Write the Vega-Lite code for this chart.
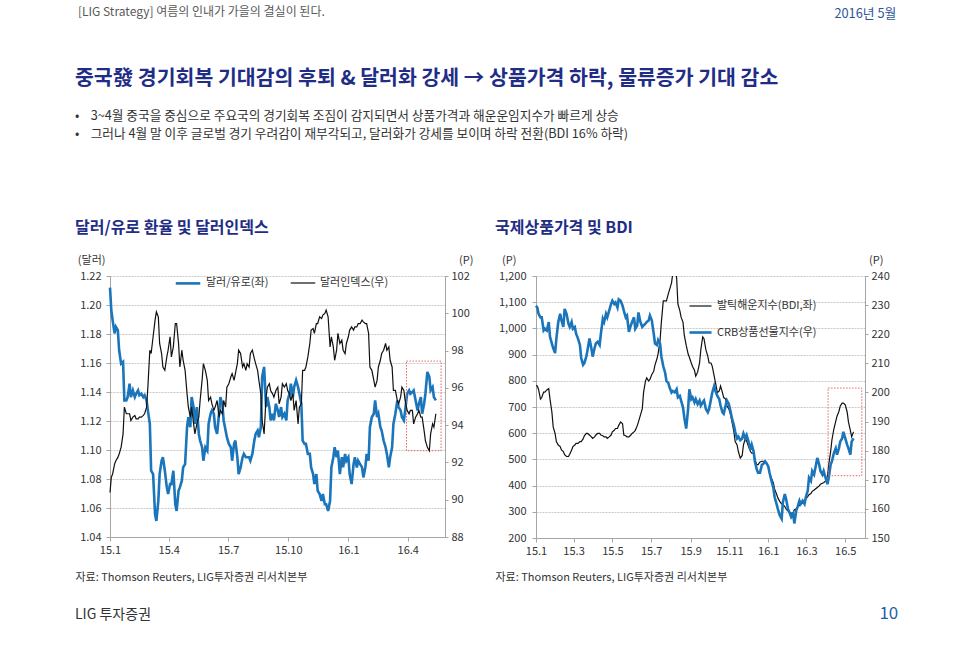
{
"$schema": "https://vega.github.io/schema/vega-lite/v6.json",
"padding": {"left": 75, "top": 5, "right": 20, "bottom": 5},
"background": "white",
"config": {
  "font": "Noto Sans CJK KR",
  "view": {"stroke": null},
  "axis": {"labelFontSize": 11, "labelColor": "#333333", "domainColor": "#a6a6a6", "tickColor": "#a6a6a6", "tickSize": 4, "titleFontSize": 11, "titleFontWeight": "normal", "titleColor": "#333333", "gridColor": "#c8c8c8", "gridDash": [2, 1], "gridOpacity": 1, "labelOverlap": false},
  "legend": {"padding": 0, "offset": 0, "labelFontSize": 11, "labelColor": "#333333", "symbolType": "stroke", "title": null}
},
"datasets": {"series": [
{"d":"2015-01-01","eur":1.212,"dxy":90.39,"bdi":782,"crb":229.8},
{"d":"2015-01-03","eur":1.1965,"dxy":91.2,"bdi":780,"crb":229.2},
{"d":"2015-01-05","eur":1.1896,"dxy":91.38,"bdi":767,"crb":227.0},
{"d":"2015-01-08","eur":1.1804,"dxy":91.91,"bdi":730,"crb":225.8},
{"d":"2015-01-10","eur":1.185,"dxy":92.09,"bdi":736,"crb":225.8},
{"d":"2015-01-13","eur":1.1827,"dxy":92.27,"bdi":757,"crb":221.3},
{"d":"2015-01-15","eur":1.1688,"dxy":92.45,"bdi":757,"crb":221.9},
{"d":"2015-01-18","eur":1.1596,"dxy":92.81,"bdi":765,"crb":221.3},
{"d":"2015-01-21","eur":1.1608,"dxy":93.53,"bdi":770,"crb":224.2},
{"d":"2015-01-23","eur":1.1342,"dxy":94.97,"bdi":730,"crb":219.1},
{"d":"2015-01-26","eur":1.1342,"dxy":94.61,"bdi":680,"crb":216.8},
{"d":"2015-01-28","eur":1.1365,"dxy":94.61,"bdi":624,"crb":215.2},
{"d":"2015-01-31","eur":1.1457,"dxy":94.61,"bdi":599,"crb":213.5},
{"d":"2015-02-02","eur":1.1365,"dxy":94.25,"bdi":568,"crb":218.5},
{"d":"2015-02-05","eur":1.1411,"dxy":94.43,"bdi":555,"crb":224.2},
{"d":"2015-02-08","eur":1.1365,"dxy":94.52,"bdi":549,"crb":227.0},
{"d":"2015-02-10","eur":1.1388,"dxy":94.34,"bdi":536,"crb":224.7},
{"d":"2015-02-13","eur":1.1411,"dxy":94.34,"bdi":530,"crb":222.5},
{"d":"2015-02-15","eur":1.1377,"dxy":94.43,"bdi":518,"crb":228.7},
{"d":"2015-02-18","eur":1.1388,"dxy":94.43,"bdi":511,"crb":227.0},
{"d":"2015-02-21","eur":1.1365,"dxy":94.52,"bdi":511,"crb":223.6},
{"d":"2015-02-23","eur":1.1377,"dxy":94.61,"bdi":520,"crb":222.5},
{"d":"2015-02-26","eur":1.1342,"dxy":94.97,"bdi":536,"crb":224.2},
{"d":"2015-02-28","eur":1.1273,"dxy":96.04,"bdi":549,"crb":221.9},
{"d":"2015-03-03","eur":1.118,"dxy":98.02,"bdi":555,"crb":222.5},
{"d":"2015-03-05","eur":1.0857,"dxy":97.84,"bdi":561,"crb":220.2},
{"d":"2015-03-08","eur":1.0834,"dxy":98.74,"bdi":561,"crb":218.5},
{"d":"2015-03-11","eur":1.0557,"dxy":99.63,"bdi":568,"crb":216.3},
{"d":"2015-03-13","eur":1.0511,"dxy":100.08,"bdi":568,"crb":211.8},
{"d":"2015-03-16","eur":1.0649,"dxy":99.81,"bdi":578,"crb":209.5},
{"d":"2015-03-18","eur":1.0834,"dxy":98.38,"bdi":590,"crb":210.1},
{"d":"2015-03-21","eur":1.0926,"dxy":97.84,"bdi":599,"crb":212.3},
{"d":"2015-03-23","eur":1.095,"dxy":97.12,"bdi":599,"crb":214.6},
{"d":"2015-03-26","eur":1.0857,"dxy":96.94,"bdi":593,"crb":218.5},
{"d":"2015-03-29","eur":1.0742,"dxy":97.66,"bdi":586,"crb":215.2},
{"d":"2015-03-31","eur":1.0696,"dxy":98.02,"bdi":580,"crb":212.3},
{"d":"2015-04-03","eur":1.0765,"dxy":98.74,"bdi":586,"crb":215.2},
{"d":"2015-04-05","eur":1.0765,"dxy":97.66,"bdi":593,"crb":216.8},
{"d":"2015-04-08","eur":1.0857,"dxy":98.2,"bdi":599,"crb":217.4},
{"d":"2015-04-11","eur":1.0626,"dxy":99.45,"bdi":599,"crb":216.3},
{"d":"2015-04-13","eur":1.058,"dxy":99.45,"bdi":593,"crb":220.2},
{"d":"2015-04-16","eur":1.0719,"dxy":98.38,"bdi":590,"crb":225.3},
{"d":"2015-04-18","eur":1.0742,"dxy":97.12,"bdi":586,"crb":224.2},
{"d":"2015-04-21","eur":1.0788,"dxy":98.02,"bdi":586,"crb":227.0},
{"d":"2015-04-23","eur":1.088,"dxy":97.48,"bdi":580,"crb":225.8},
{"d":"2015-04-26","eur":1.0903,"dxy":96.94,"bdi":586,"crb":228.1},
{"d":"2015-04-29","eur":1.1157,"dxy":95.68,"bdi":593,"crb":230.4},
{"d":"2015-05-01","eur":1.1227,"dxy":94.97,"bdi":605,"crb":231.5},
{"d":"2015-05-04","eur":1.1157,"dxy":94.43,"bdi":611,"crb":230.4},
{"d":"2015-05-06","eur":1.1365,"dxy":94.97,"bdi":618,"crb":230.9},
{"d":"2015-05-09","eur":1.1296,"dxy":94.07,"bdi":618,"crb":229.2},
{"d":"2015-05-11","eur":1.118,"dxy":93.53,"bdi":630,"crb":232.0},
{"d":"2015-05-14","eur":1.1296,"dxy":94.07,"bdi":643,"crb":231.5},
{"d":"2015-05-17","eur":1.1111,"dxy":94.43,"bdi":636,"crb":229.8},
{"d":"2015-05-19","eur":1.1065,"dxy":95.32,"bdi":593,"crb":228.1},
{"d":"2015-05-22","eur":1.1019,"dxy":96.4,"bdi":590,"crb":225.8},
{"d":"2015-05-24","eur":1.0926,"dxy":97.3,"bdi":586,"crb":226.4},
{"d":"2015-05-27","eur":1.1019,"dxy":96.94,"bdi":586,"crb":220.8},
{"d":"2015-05-30","eur":1.0996,"dxy":96.4,"bdi":593,"crb":223.0},
{"d":"2015-06-01","eur":1.118,"dxy":95.32,"bdi":599,"crb":224.2},
{"d":"2015-06-04","eur":1.125,"dxy":95.5,"bdi":605,"crb":225.8},
{"d":"2015-06-06","eur":1.1273,"dxy":95.15,"bdi":611,"crb":221.9},
{"d":"2015-06-09","eur":1.125,"dxy":94.79,"bdi":628,"crb":223.0},
{"d":"2015-06-11","eur":1.1157,"dxy":94.97,"bdi":643,"crb":227.5},
{"d":"2015-06-14","eur":1.1111,"dxy":95.32,"bdi":668,"crb":224.2},
{"d":"2015-06-17","eur":1.125,"dxy":94.43,"bdi":693,"crb":222.5},
{"d":"2015-06-19","eur":1.1365,"dxy":94.79,"bdi":755,"crb":223.0},
{"d":"2015-06-22","eur":1.1319,"dxy":94.61,"bdi":799,"crb":223.6},
{"d":"2015-06-24","eur":1.1204,"dxy":95.32,"bdi":811,"crb":224.2},
{"d":"2015-06-27","eur":1.1134,"dxy":94.97,"bdi":799,"crb":224.7},
{"d":"2015-06-29","eur":1.1088,"dxy":96.04,"bdi":805,"crb":226.4},
{"d":"2015-07-02","eur":1.1042,"dxy":96.22,"bdi":824,"crb":224.7},
{"d":"2015-07-05","eur":1.1019,"dxy":96.58,"bdi":836,"crb":220.2},
{"d":"2015-07-07","eur":1.0926,"dxy":96.76,"bdi":861,"crb":216.8},
{"d":"2015-07-10","eur":1.1042,"dxy":96.4,"bdi":883,"crb":216.3},
{"d":"2015-07-12","eur":1.1065,"dxy":96.76,"bdi":905,"crb":218.0},
{"d":"2015-07-15","eur":1.095,"dxy":97.3,"bdi":955,"crb":216.8},
{"d":"2015-07-17","eur":1.0834,"dxy":98.02,"bdi":1024,"crb":212.3},
{"d":"2015-07-20","eur":1.088,"dxy":97.84,"bdi":1105,"crb":209.0},
{"d":"2015-07-23","eur":1.095,"dxy":97.12,"bdi":1105,"crb":206.7},
{"d":"2015-07-25","eur":1.0973,"dxy":97.3,"bdi":1105,"crb":203.9},
{"d":"2015-07-28","eur":1.095,"dxy":96.94,"bdi":1133,"crb":203.3},
{"d":"2015-07-30","eur":1.095,"dxy":97.3,"bdi":1149,"crb":201.7},
{"d":"2015-08-02","eur":1.095,"dxy":97.12,"bdi":1174,"crb":200.0},
{"d":"2015-08-04","eur":1.0926,"dxy":97.84,"bdi":1211,"crb":200.5},
{"d":"2015-08-07","eur":1.0973,"dxy":98.02,"bdi":1230,"crb":200.0},
{"d":"2015-08-10","eur":1.1065,"dxy":97.57,"bdi":1193,"crb":201.1},
{"d":"2015-08-12","eur":1.1111,"dxy":97.3,"bdi":1093,"crb":198.3},
{"d":"2015-08-15","eur":1.1134,"dxy":96.94,"bdi":1068,"crb":198.8},
{"d":"2015-08-17","eur":1.1088,"dxy":96.4,"bdi":1043,"crb":197.2},
{"d":"2015-08-20","eur":1.1157,"dxy":95.68,"bdi":1024,"crb":194.9},
{"d":"2015-08-22","eur":1.1504,"dxy":94.25,"bdi":974,"crb":191.5},
{"d":"2015-08-25","eur":1.1573,"dxy":93.53,"bdi":936,"crb":187.6},
{"d":"2015-08-28","eur":1.1296,"dxy":95.5,"bdi":903,"crb":194.3},
{"d":"2015-08-30","eur":1.1365,"dxy":96.04,"bdi":890,"crb":201.1},
{"d":"2015-09-02","eur":1.1296,"dxy":96.22,"bdi":868,"crb":197.7},
{"d":"2015-09-04","eur":1.1204,"dxy":95.86,"bdi":855,"crb":198.3},
{"d":"2015-09-07","eur":1.125,"dxy":95.68,"bdi":840,"crb":196.6},
{"d":"2015-09-09","eur":1.1204,"dxy":95.5,"bdi":818,"crb":197.7},
{"d":"2015-09-12","eur":1.1319,"dxy":95.86,"bdi":833,"crb":196.0},
{"d":"2015-09-15","eur":1.1273,"dxy":96.04,"bdi":868,"crb":197.2},
{"d":"2015-09-17","eur":1.1227,"dxy":95.15,"bdi":918,"crb":195.5},
{"d":"2015-09-20","eur":1.1296,"dxy":95.5,"bdi":968,"crb":196.6},
{"d":"2015-09-22","eur":1.1227,"dxy":96.22,"bdi":961,"crb":197.2},
{"d":"2015-09-25","eur":1.125,"dxy":96.04,"bdi":918,"crb":194.3},
{"d":"2015-09-28","eur":1.1204,"dxy":96.22,"bdi":893,"crb":193.2},
{"d":"2015-09-30","eur":1.1342,"dxy":95.86,"bdi":868,"crb":194.3},
{"d":"2015-10-03","eur":1.1388,"dxy":95.68,"bdi":868,"crb":197.7},
{"d":"2015-10-05","eur":1.1457,"dxy":95.32,"bdi":855,"crb":200.0},
{"d":"2015-10-08","eur":1.1365,"dxy":95.68,"bdi":818,"crb":202.2},
{"d":"2015-10-10","eur":1.1434,"dxy":94.79,"bdi":793,"crb":200.5},
{"d":"2015-10-13","eur":1.1481,"dxy":95.32,"bdi":755,"crb":198.8},
{"d":"2015-10-16","eur":1.1434,"dxy":94.07,"bdi":761,"crb":197.7},
{"d":"2015-10-18","eur":1.1388,"dxy":94.97,"bdi":780,"crb":195.5},
{"d":"2015-10-21","eur":1.1319,"dxy":95.15,"bdi":755,"crb":193.2},
{"d":"2015-10-23","eur":1.1065,"dxy":96.94,"bdi":736,"crb":192.7},
{"d":"2015-10-26","eur":1.1042,"dxy":96.94,"bdi":730,"crb":195.5},
{"d":"2015-10-28","eur":1.1042,"dxy":97.12,"bdi":705,"crb":197.2},
{"d":"2015-10-31","eur":1.0973,"dxy":97.66,"bdi":693,"crb":196.0},
{"d":"2015-11-03","eur":1.0973,"dxy":98.38,"bdi":668,"crb":193.2},
{"d":"2015-11-05","eur":1.088,"dxy":99.1,"bdi":643,"crb":191.0},
{"d":"2015-11-08","eur":1.0834,"dxy":99.18,"bdi":605,"crb":188.7},
{"d":"2015-11-10","eur":1.0765,"dxy":98.92,"bdi":568,"crb":186.5},
{"d":"2015-11-13","eur":1.0834,"dxy":99.45,"bdi":555,"crb":184.2},
{"d":"2015-11-15","eur":1.0719,"dxy":99.45,"bdi":530,"crb":184.8},
{"d":"2015-11-18","eur":1.0696,"dxy":99.81,"bdi":505,"crb":183.6},
{"d":"2015-11-21","eur":1.0649,"dxy":99.72,"bdi":515,"crb":184.2},
{"d":"2015-11-23","eur":1.0696,"dxy":99.9,"bdi":555,"crb":185.9},
{"d":"2015-11-26","eur":1.0626,"dxy":99.99,"bdi":580,"crb":184.2},
{"d":"2015-11-28","eur":1.0626,"dxy":100.17,"bdi":570,"crb":185.3},
{"d":"2015-12-01","eur":1.058,"dxy":99.81,"bdi":549,"crb":183.1},
{"d":"2015-12-04","eur":1.0649,"dxy":98.2,"bdi":530,"crb":180.3},
{"d":"2015-12-06","eur":1.088,"dxy":98.74,"bdi":524,"crb":182.0},
{"d":"2015-12-09","eur":1.095,"dxy":98.2,"bdi":524,"crb":179.7},
{"d":"2015-12-11","eur":1.1019,"dxy":97.48,"bdi":499,"crb":176.3},
{"d":"2015-12-14","eur":1.095,"dxy":98.02,"bdi":480,"crb":173.5},
{"d":"2015-12-16","eur":1.0996,"dxy":98.92,"bdi":480,"crb":172.4},
{"d":"2015-12-19","eur":1.0834,"dxy":98.38,"bdi":490,"crb":172.4},
{"d":"2015-12-22","eur":1.095,"dxy":98.56,"bdi":493,"crb":175.2},
{"d":"2015-12-24","eur":1.088,"dxy":98.02,"bdi":493,"crb":175.4},
{"d":"2015-12-27","eur":1.0973,"dxy":97.84,"bdi":490,"crb":176.3},
{"d":"2015-12-29","eur":1.0926,"dxy":98.38,"bdi":486,"crb":175.8},
{"d":"2016-01-01","eur":1.095,"dxy":98.74,"bdi":474,"crb":174.6},
{"d":"2016-01-03","eur":1.0834,"dxy":99.1,"bdi":449,"crb":172.4},
{"d":"2016-01-06","eur":1.0765,"dxy":99.27,"bdi":428,"crb":169.6},
{"d":"2016-01-09","eur":1.0903,"dxy":99.1,"bdi":411,"crb":167.3},
{"d":"2016-01-11","eur":1.095,"dxy":99.27,"bdi":386,"crb":164.0},
{"d":"2016-01-14","eur":1.088,"dxy":99.27,"bdi":368,"crb":161.7},
{"d":"2016-01-16","eur":1.0926,"dxy":99.45,"bdi":353,"crb":160.0},
{"d":"2016-01-19","eur":1.0903,"dxy":99.45,"bdi":340,"crb":157.8},
{"d":"2016-01-22","eur":1.088,"dxy":99.63,"bdi":330,"crb":156.6},
{"d":"2016-01-24","eur":1.0811,"dxy":99.54,"bdi":328,"crb":162.3},
{"d":"2016-01-27","eur":1.088,"dxy":99.45,"bdi":320,"crb":165.1},
{"d":"2016-01-29","eur":1.0973,"dxy":99.45,"bdi":311,"crb":163.4},
{"d":"2016-02-01","eur":1.0926,"dxy":98.92,"bdi":303,"crb":160.0},
{"d":"2016-02-03","eur":1.1157,"dxy":97.12,"bdi":298,"crb":158.9},
{"d":"2016-02-06","eur":1.1227,"dxy":96.94,"bdi":295,"crb":157.2},
{"d":"2016-02-09","eur":1.125,"dxy":96.4,"bdi":296,"crb":158.3},
{"d":"2016-02-11","eur":1.1342,"dxy":96.04,"bdi":308,"crb":155.0},
{"d":"2016-02-14","eur":1.1227,"dxy":96.4,"bdi":311,"crb":159.5},
{"d":"2016-02-16","eur":1.125,"dxy":97.12,"bdi":318,"crb":160.6},
{"d":"2016-02-19","eur":1.1157,"dxy":97.48,"bdi":324,"crb":162.8},
{"d":"2016-02-21","eur":1.1134,"dxy":97.84,"bdi":330,"crb":161.7},
{"d":"2016-02-24","eur":1.1065,"dxy":98.02,"bdi":333,"crb":162.8},
{"d":"2016-02-27","eur":1.1019,"dxy":98.38,"bdi":339,"crb":161.7},
{"d":"2016-02-29","eur":1.0973,"dxy":98.02,"bdi":349,"crb":164.0},
{"d":"2016-03-03","eur":1.088,"dxy":98.2,"bdi":358,"crb":166.2},
{"d":"2016-03-05","eur":1.095,"dxy":97.48,"bdi":365,"crb":170.7},
{"d":"2016-03-08","eur":1.1019,"dxy":97.12,"bdi":370,"crb":169.6},
{"d":"2016-03-10","eur":1.118,"dxy":95.86,"bdi":378,"crb":173.0},
{"d":"2016-03-13","eur":1.125,"dxy":95.86,"bdi":383,"crb":171.8},
{"d":"2016-03-16","eur":1.1342,"dxy":95.32,"bdi":389,"crb":175.2},
{"d":"2016-03-18","eur":1.1296,"dxy":95.15,"bdi":393,"crb":177.5},
{"d":"2016-03-21","eur":1.1273,"dxy":95.5,"bdi":399,"crb":175.2},
{"d":"2016-03-23","eur":1.1227,"dxy":96.04,"bdi":405,"crb":173.0},
{"d":"2016-03-26","eur":1.1204,"dxy":95.86,"bdi":409,"crb":171.8},
{"d":"2016-03-28","eur":1.1273,"dxy":95.32,"bdi":411,"crb":173.0},
{"d":"2016-03-31","eur":1.1388,"dxy":94.79,"bdi":418,"crb":170.7},
{"d":"2016-04-03","eur":1.1411,"dxy":94.61,"bdi":436,"crb":168.5},
{"d":"2016-04-05","eur":1.1388,"dxy":94.79,"bdi":480,"crb":170.7},
{"d":"2016-04-08","eur":1.14,"dxy":94.79,"bdi":530,"crb":175.2},
{"d":"2016-04-10","eur":1.1411,"dxy":94.07,"bdi":574,"crb":176.3},
{"d":"2016-04-13","eur":1.1342,"dxy":94.43,"bdi":615,"crb":179.1},
{"d":"2016-04-16","eur":1.1273,"dxy":94.61,"bdi":645,"crb":180.8},
{"d":"2016-04-18","eur":1.1319,"dxy":94.79,"bdi":665,"crb":178.6},
{"d":"2016-04-21","eur":1.1365,"dxy":94.43,"bdi":683,"crb":180.8},
{"d":"2016-04-23","eur":1.125,"dxy":94.43,"bdi":703,"crb":183.1},
{"d":"2016-04-26","eur":1.1319,"dxy":93.71,"bdi":715,"crb":184.2},
{"d":"2016-04-28","eur":1.1388,"dxy":93.17,"bdi":715,"crb":186.5},
{"d":"2016-05-01","eur":1.1538,"dxy":92.81,"bdi":708,"crb":184.2},
{"d":"2016-05-04","eur":1.1504,"dxy":92.63,"bdi":680,"crb":182.0},
{"d":"2016-05-06","eur":1.1411,"dxy":93.53,"bdi":643,"crb":180.8},
{"d":"2016-05-09","eur":1.1434,"dxy":94.07,"bdi":611,"crb":178.6},
{"d":"2016-05-11","eur":1.1365,"dxy":93.89,"bdi":586,"crb":183.1},
{"d":"2016-05-14","eur":1.1342,"dxy":94.61,"bdi":605,"crb":184.2}
]},
"title": {"text": "10", "orient": "bottom", "anchor": "end", "fontSize": 17, "fontWeight": "normal", "color": "#1f5fa8", "dy": -20, "dx": 2},
"vconcat": [{
  "title": {"text": "LIG 투자증권", "orient": "bottom", "anchor": "start", "fontSize": 14, "fontWeight": "normal", "color": "#333333", "offset": 26},
  "vconcat": [{
    "title": {"text": "2016년 5월", "anchor": "end", "fontSize": 12.8, "fontWeight": "normal", "color": "#2e5597", "offset": 0, "dy": 15, "dx": 7},
    "vconcat": [{
      "title": {"text": "[LIG Strategy] 여름의 인내가 가을의 결실이 된다.", "anchor": "start", "fontSize": 12, "fontWeight": "normal", "color": "#595959", "offset": 50, "dx": 3},
      "vconcat": [{
        "title": {
          "text": "중국發 경기회복 기대감의 후퇴 & 달러화 강세 → 상품가격 하락, 물류증가 기대 감소",
          "subtitle": ["\u00a0\u00a0•\u00a0\u00a0\u00a0 3~4월 중국을 중심으로 주요국의 경기회복 조짐이 감지되면서 상품가격과 해운운임지수가 빠르게 상승", "\u00a0\u00a0•\u00a0\u00a0\u00a0 그러나 4월 말 이후 글로벌 경기 우려감이 재부각되고, 달러화가 강세를 보이며 하락 전환(BDI 16% 하락)"],
          "anchor": "start", "fontSize": 20.5, "fontWeight": "bold", "color": "#1f2d86",
          "subtitleFontSize": 12.7, "subtitleColor": "#333333", "subtitlePadding": 21, "subtitleLineHeight": 18,
          "offset": 79
        },
        "spacing": 22,
        "resolve": {"scale": {"color": "independent", "strokeWidth": "independent"}, "legend": {"color": "independent", "strokeWidth": "independent"}},
        "hconcat": [
          {
            "width": 335, "height": 261,
            "title": {"text": "달러/유로 환율 및 달러인덱스", "anchor": "start", "fontSize": 16, "fontWeight": "bold", "color": "#1f2d86", "offset": 18},
            "encoding": {
              "x": {"field": "d", "type": "temporal",
                "scale": {"type": "utc", "domain": [{"year": 2015, "month": 1, "date": 1, "utc": true}, {"year": 2016, "month": 5, "date": 28, "utc": true}]},
                "axis": {"values": [{"year": 2015, "month": 1, "date": 1, "utc": true}, {"year": 2015, "month": 4, "date": 1, "utc": true}, {"year": 2015, "month": 7, "date": 1, "utc": true}, {"year": 2015, "month": 10, "date": 1, "utc": true}, {"year": 2016, "month": 1, "date": 1, "utc": true}, {"year": 2016, "month": 4, "date": 1, "utc": true}],
                  "format": "%y.%-m", "grid": false, "labelFlush": false, "labelPadding": 3,
                  "title": "자료: Thomson Reuters, LIG투자증권 리서치본부", "titleX": -35, "titleY": 40, "titleAlign": "left", "titleBaseline": "middle"}}
            },
            "layer": [
              {"layer": [
                {"data": {"name": "series"}, "mark": {"type": "line"},
                 "encoding": {
                   "y": {"field": "eur", "type": "quantitative", "scale": {"domain": [1.04, 1.22], "nice": false, "zero": false},
                     "axis": {"values": [1.04, 1.06, 1.08, 1.1, 1.12, 1.14, 1.16, 1.18, 1.2, 1.22], "format": ".2f", "grid": true, "labelPadding": 5,
                       "title": "(달러)", "titleAngle": 0, "titleX": -5, "titleY": -16, "titleAlign": "right", "titleBaseline": "middle"}},
                   "color": {"datum": "달러/유로(좌)", "scale": {"domain": ["달러/유로(좌)", "달러인덱스(우)"], "range": ["#1b75bb", "#111111"]},
                     "legend": {"orient": "none", "legendX": 64, "legendY": -7, "direction": "horizontal", "symbolSize": 600, "columnPadding": 19, "labelOffset": 4}},
                   "strokeWidth": {"datum": "달러/유로(좌)", "scale": {"domain": ["달러/유로(좌)", "달러인덱스(우)"], "range": [2.6, 1.2]},
                     "legend": {"orient": "none", "legendX": 64, "legendY": -7, "direction": "horizontal", "symbolSize": 600, "columnPadding": 19, "labelOffset": 4}}
                 }},
                {"data": {"values": [{"d": "2016-03-30", "d2": "2016-05-22", "lo": 1.0995, "hi": 1.1613}]},
                 "mark": {"type": "rect", "filled": false, "stroke": "#e06666", "strokeWidth": 1, "strokeDash": [1.5, 1.5]},
                 "encoding": {"x2": {"field": "d2"},
                   "y": {"field": "hi", "type": "quantitative",
                     "axis": {"values": [1.04, 1.06, 1.08, 1.1, 1.12, 1.14, 1.16, 1.18, 1.2, 1.22], "format": ".2f", "grid": true, "labelPadding": 5,
                       "title": "(달러)", "titleAngle": 0, "titleX": -5, "titleY": -16, "titleAlign": "right", "titleBaseline": "middle"}},
                   "y2": {"field": "lo"}}}
              ]},
              {"data": {"name": "series"}, "mark": {"type": "line"},
               "encoding": {
                 "y": {"field": "dxy", "type": "quantitative", "scale": {"domain": [88, 102], "nice": false, "zero": false},
                   "axis": {"orient": "right", "values": [88, 90, 92, 94, 96, 98, 100, 102], "grid": false, "tickSize": 3, "labelPadding": 3,
                     "title": "(P)", "titleAngle": 0, "titleX": 28, "titleY": -16, "titleAlign": "right", "titleBaseline": "middle"}},
                 "color": {"datum": "달러인덱스(우)"},
                 "strokeWidth": {"datum": "달러인덱스(우)"}
               }}
            ],
            "resolve": {"scale": {"y": "independent"}}
          },
          {
            "width": 329, "height": 262,
            "title": {"text": "국제상품가격 및 BDI", "anchor": "start", "fontSize": 16, "fontWeight": "bold", "color": "#1f2d86", "offset": 18},
            "encoding": {
              "x": {"field": "d", "type": "temporal",
                "scale": {"type": "utc", "domain": [{"year": 2015, "month": 1, "date": 1, "utc": true}, {"year": 2016, "month": 6, "date": 1, "utc": true}]},
                "axis": {"values": [{"year": 2015, "month": 1, "date": 1, "utc": true}, {"year": 2015, "month": 3, "date": 1, "utc": true}, {"year": 2015, "month": 5, "date": 1, "utc": true}, {"year": 2015, "month": 7, "date": 1, "utc": true}, {"year": 2015, "month": 9, "date": 1, "utc": true}, {"year": 2015, "month": 11, "date": 1, "utc": true}, {"year": 2016, "month": 1, "date": 1, "utc": true}, {"year": 2016, "month": 3, "date": 1, "utc": true}, {"year": 2016, "month": 5, "date": 1, "utc": true}],
                  "format": "%y.%-m", "grid": false, "labelFlush": false, "labelPadding": 3,
                  "title": "자료: Thomson Reuters, LIG투자증권 리서치본부", "titleX": -41, "titleY": 39, "titleAlign": "left", "titleBaseline": "middle"}}
            },
            "layer": [
              {"data": {"name": "series"}, "mark": {"type": "line", "clip": true},
               "encoding": {
                 "y": {"field": "bdi", "type": "quantitative", "scale": {"domain": [200, 1200], "nice": false, "zero": false},
                   "axis": {"values": [200, 300, 400, 500, 600, 700, 800, 900, 1000, 1100, 1200], "format": ",d", "grid": true, "labelPadding": 6,
                     "title": "(P)", "titleAngle": 0, "titleX": -20, "titleY": -16, "titleAlign": "right", "titleBaseline": "middle"}},
                 "color": {"datum": "발틱해운지수(BDI,좌)", "scale": {"domain": ["발틱해운지수(BDI,좌)", "CRB상품선물지수(우)"], "range": ["#111111", "#1b75bb"]},
                   "legend": {"orient": "none", "legendX": 152, "legendY": 18, "direction": "vertical", "symbolSize": 484, "rowPadding": 9, "labelOffset": 4}},
                 "strokeWidth": {"datum": "발틱해운지수(BDI,좌)", "scale": {"domain": ["발틱해운지수(BDI,좌)", "CRB상품선물지수(우)"], "range": [1.2, 2.6]},
                   "legend": {"orient": "none", "legendX": 152, "legendY": 18, "direction": "vertical", "symbolSize": 484, "rowPadding": 9, "labelOffset": 4}}
               }},
              {"layer": [
                {"data": {"name": "series"}, "mark": {"type": "line"},
                 "encoding": {
                   "y": {"field": "crb", "type": "quantitative", "scale": {"domain": [150, 240], "nice": false, "zero": false},
                     "axis": {"orient": "right", "values": [150, 160, 170, 180, 190, 200, 210, 220, 230, 240], "grid": false, "tickSize": 3, "labelPadding": 3,
                       "title": "(P)", "titleAngle": 0, "titleX": 18, "titleY": -16, "titleAlign": "right", "titleBaseline": "middle"}},
                   "color": {"datum": "CRB상품선물지수(우)"},
                   "strokeWidth": {"datum": "CRB상품선물지수(우)"}
                 }},
                {"data": {"values": [{"d": "2016-04-04", "d2": "2016-05-27", "lo": 171.4, "hi": 201.5}]},
                 "mark": {"type": "rect", "filled": false, "stroke": "#e06666", "strokeWidth": 1, "strokeDash": [1.5, 1.5]},
                 "encoding": {"x2": {"field": "d2"},
                   "y": {"field": "hi", "type": "quantitative",
                     "axis": {"orient": "right", "values": [150, 160, 170, 180, 190, 200, 210, 220, 230, 240], "grid": false, "tickSize": 3, "labelPadding": 3,
                       "title": "(P)", "titleAngle": 0, "titleX": 18, "titleY": -16, "titleAlign": "right", "titleBaseline": "middle"}},
                   "y2": {"field": "lo"}}}
              ]}
            ],
            "resolve": {"scale": {"y": "independent"}}
          }
        ]
      }]
    }]
  }]
}]
}
